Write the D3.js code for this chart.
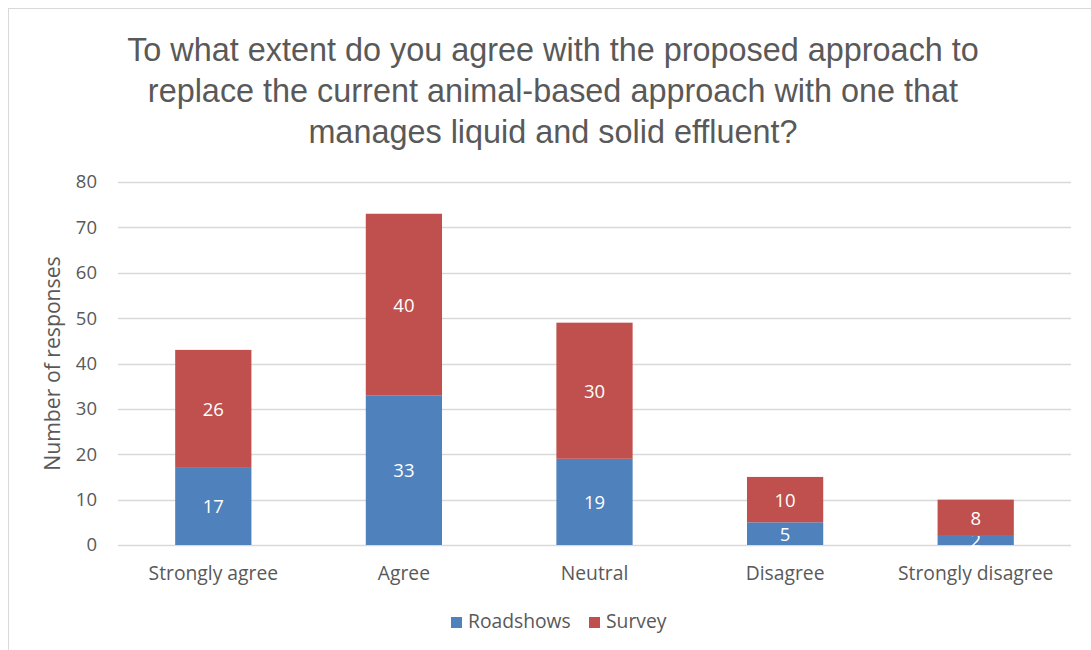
<!DOCTYPE html>
<html>
<head>
<meta charset="utf-8">
<script src="https://cdn.jsdelivr.net/npm/d3@7"></script>
<style>
  html, body { margin: 0; padding: 0; background: #fff; }
  svg { display: block; font-family: "Open Sans", "Liberation Sans", sans-serif; }
</style>
</head>
<body>
<svg id="chart" width="1091" height="650"></svg>
<script>
// Survey responses by level of agreement
const categories = ["Strongly agree", "Agree", "Neutral", "Disagree", "Strongly disagree"];
const roadshows = [17, 33, 19, 5, 2];
const survey = [26, 40, 30, 10, 8];
const seriesNames = ["Roadshows", "Survey"];
const seriesColors = ["#4F81BD", "#C0504D"];
const yTicks = [0, 10, 20, 30, 40, 50, 60, 70, 80];
const titleLines = [
  "To what extent do you agree with the proposed approach to",
  "replace the current animal-based approach with one that",
  "manages liquid and solid effluent?"
];

const svg = d3.select("#chart");
const W = 1091, H = 650;
const plot = { left: 118, right: 1071, top: 182, bottom: 545 };

// chart frame
svg.append("rect")
  .attr("x", 8.5).attr("y", 8.5)
  .attr("width", W).attr("height", H)
  .attr("fill", "#fff").attr("stroke", "#d9d9d9").attr("stroke-width", 1);

// title
svg.append("g").selectAll("text").data(titleLines).join("text")
  .attr("x", 553).attr("y", (d, i) => 61 + i * 41)
  .attr("text-anchor", "middle")
  .attr("font-family", "Liberation Sans, sans-serif")
  .attr("font-size", 32.4).attr("fill", "#595959")
  .text(d => d);

const x = d3.scaleBand().domain(categories)
  .range([plot.left, plot.right]).paddingInner(0.6).paddingOuter(0.3);
const y = d3.scaleLinear().domain([0, 80]).range([plot.bottom, plot.top]);

// gridlines
svg.append("g").selectAll("line").data(yTicks).join("line")
  .attr("x1", plot.left).attr("x2", plot.right)
  .attr("y1", d => Math.round(y(d)) + 0.5).attr("y2", d => Math.round(y(d)) + 0.5)
  .attr("stroke", "#d9d9d9").attr("stroke-width", 1.3);

// y axis labels
const yAxis = d3.axisLeft(y).tickValues(yTicks).tickSize(0).tickPadding(0);
const yg = svg.append("g").attr("transform", `translate(${plot.left - 21},0)`).call(yAxis);
yg.select(".domain").remove();
yg.selectAll("text").attr("font-size", 18.5).attr("fill", "#595959")
  .attr("font-family", "Open Sans, sans-serif");

// y axis title
svg.append("text")
  .attr("transform", `translate(60,${(plot.top + plot.bottom) / 2}) rotate(-90)`)
  .attr("text-anchor", "middle")
  .attr("font-size", 21.2).attr("fill", "#595959")
  .text("Number of responses");

// stacked data
const rows = categories.map((c, i) => ({ category: c, Roadshows: roadshows[i], Survey: survey[i] }));
const stacked = d3.stack().keys(seriesNames)(rows);

const layers = svg.append("g").selectAll("g").data(stacked).join("g")
  .attr("fill", (d, i) => seriesColors[i]);

layers.selectAll("rect").data(d => d).join("rect")
  .attr("x", d => x(d.data.category))
  .attr("width", x.bandwidth())
  .attr("y", d => y(d[1]))
  .attr("height", d => y(d[0]) - y(d[1]));

// value labels
layers.each(function(layer) {
  d3.select(this).selectAll("text").data(layer).join("text")
    .attr("x", d => x(d.data.category) + x.bandwidth() / 2)
    .attr("y", d => (y(d[0]) + y(d[1])) / 2 + 7)
    .attr("text-anchor", "middle")
    .attr("font-size", 18.5).attr("fill", "#fff")
    .text(d => d[1] - d[0]);
});

// x axis labels
const xAxis = d3.axisBottom(x).tickSize(0).tickPadding(0);
const xg = svg.append("g").attr("transform", `translate(0,${plot.bottom + 21})`).call(xAxis);
xg.select(".domain").remove();
xg.selectAll("text").attr("font-size", 19.3).attr("fill", "#595959")
  .attr("font-family", "Open Sans, sans-serif");

// legend
const legendItems = [
  { name: seriesNames[0], color: seriesColors[0], x: 451 },
  { name: seriesNames[1], color: seriesColors[1], x: 589 }
];
const lg = svg.append("g").selectAll("g").data(legendItems).join("g")
  .attr("transform", d => `translate(${d.x},${617})`);
lg.append("rect").attr("width", 11).attr("height", 11).attr("fill", d => d.color);
lg.append("text").attr("x", 17).attr("y", 11)
  .attr("font-size", 19.3).attr("fill", "#595959")
  .text(d => d.name);
</script>
</body>
</html>
